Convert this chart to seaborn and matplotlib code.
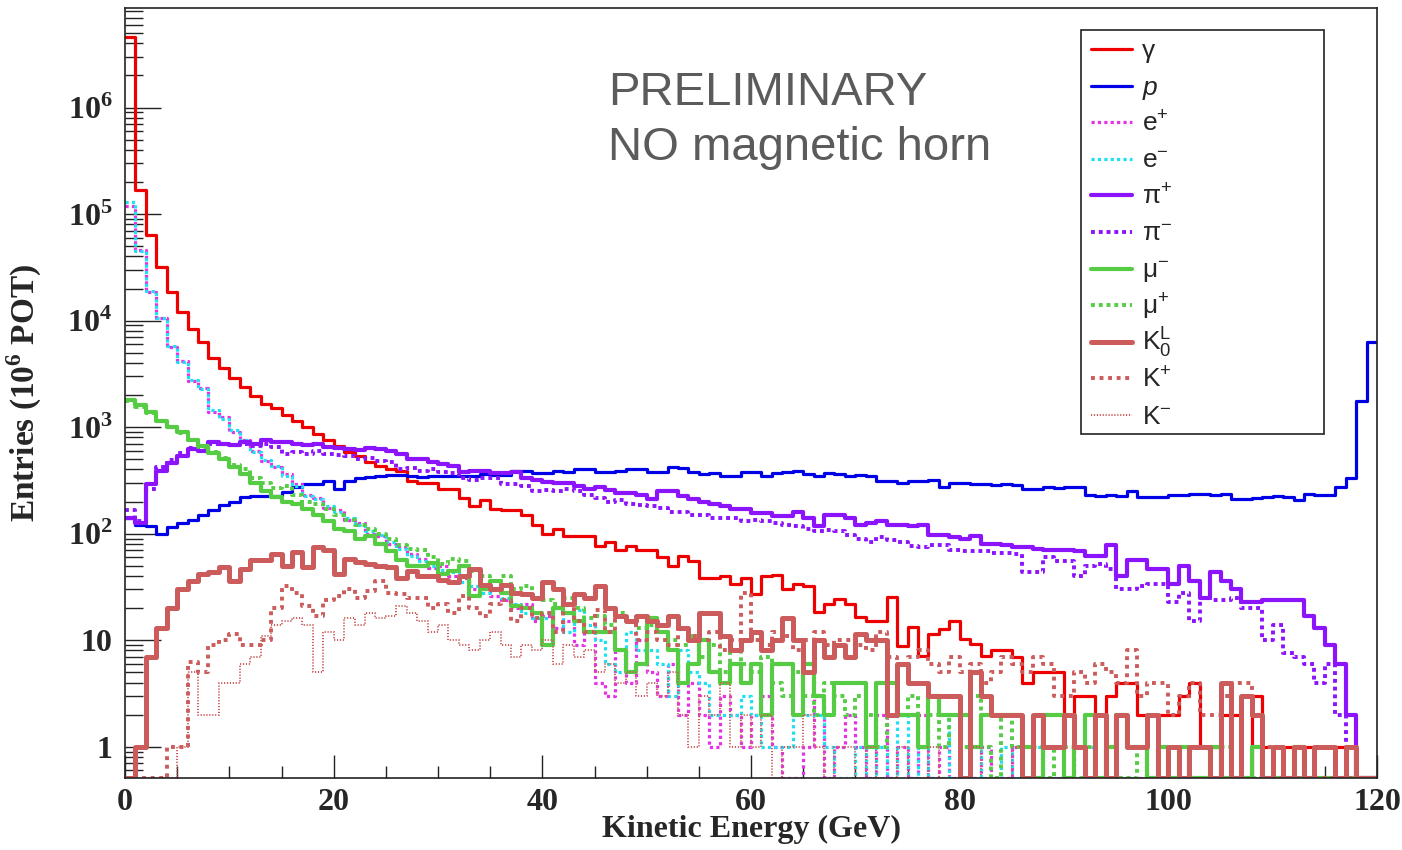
import numpy as np
import pandas as pd
import matplotlib
matplotlib.use("Agg")
import matplotlib.pyplot as plt
from matplotlib.lines import Line2D
from matplotlib.patches import Rectangle
from matplotlib.ticker import FixedLocator, FixedFormatter, LogLocator, NullFormatter, MultipleLocator
import seaborn as sns

# ---------------- data (entries per 1 GeV bin, 0..120 GeV) ----------------
bin_edges = list(range(0, 121))

gamma = [4.6e6, 1.7e5, 6.3e4, 3.2e4, 1.85e4, 1.2e4, 8.4e3, 6.3e3, 4.5e3, 3.6e3,
         2.9e3, 2.4e3, 1.95e3, 1.65e3, 1.5e3, 1.3e3, 1.15e3, 1.0e3, 870, 750,
         670, 590, 530, 470, 430, 400, 390, 315, 300, 300,
         265, 265, 215, 180, 205, 170, 165, 165, 150, 120,
         100, 110, 96, 94, 94, 77, 84, 70, 76, 70,
         70, 60, 50, 62, 55, 38, 38, 40, 34, 38,
         27, 40, 41, 30, 34, 32, 18.5, 22, 24.5, 22,
         16.6, 15, 15, 25.6, 8.9, 13.4, 7.1, 11.5, 12.8, 15.2,
         10.3, 9.3, 7.1, 8, 8, 7, 4, 5, 5, 5,
         2, 3, 3, 2, 3, 4, 4, 2, 2, 2,
         2, 3, 4, 1, 1, 2, 2, 0, 3, 1,
         0, 1, 0, 1, 0, 0, 1, 0, 0, 0]

proton = [140, 120, 118, 100, 115, 125, 133, 148, 165, 185,
          200, 222, 225, 225, 225, 248, 275, 290, 290, 315,
          265, 315, 330, 340, 350, 355, 355, 350, 340, 345,
          350, 345, 345, 350, 360, 355, 355, 390, 390, 370,
          370, 390, 380, 400, 400, 380, 380, 385, 405, 400,
          380, 380, 420, 410, 380, 360, 370, 350, 350, 380,
          380, 345, 370, 375, 390, 360, 350, 370, 360, 350,
          355, 345, 310, 310, 300, 310, 310, 320, 275, 300,
          300, 290, 290, 285, 290, 285, 265, 265, 275, 270,
          275, 275, 230, 225, 228, 225, 250, 222, 220, 222,
          230, 232, 235, 235, 232, 235, 212, 210, 215, 222,
          225, 222, 205, 235, 230, 230, 275, 330, 1750, 6300]

e_plus = [1.2e5, 4.6e4, 1.85e4, 1.05e4, 5.6e3, 4.2e3, 2.7e3, 2.35e3, 1.4e3, 1.25e3,
          900, 760, 600, 480, 420, 360, 290, 230, 215, 175,
          165, 135, 125, 100, 95, 80, 75, 64, 58, 48,
          50, 40, 38, 30, 33, 26, 24, 20, 22, 15,
          17, 13, 15, 9, 12, 4, 3, 8, 4, 10,
          5, 3, 6, 2, 4, 2, 1, 3, 2, 1,
          2, 3, 1, 0, 0, 1, 3, 0, 1, 2,
          1, 0, 2, 0, 1, 0, 2, 0, 1, 0,
          1, 0, 1, 0, 0, 1, 0, 0, 0, 0,
          0, 1, 0, 0, 0, 0, 0, 0, 0, 0,
          0, 0, 0, 0, 0, 0, 0, 0, 0, 0,
          0, 0, 0, 0, 0, 0, 0, 0, 0, 0]

e_minus = [1.3e5, 4.5e4, 1.9e4, 1.05e4, 5.8e3, 4.1e3, 2.75e3, 2.3e3, 1.45e3, 1.2e3,
           930, 750, 590, 490, 430, 350, 280, 225, 210, 180,
           160, 140, 120, 105, 97, 84, 72, 62, 55, 50,
           46, 44, 35, 32, 28, 30, 25, 22, 18, 16,
           16, 20, 12, 19, 14, 10, 6, 5, 12, 8,
           8, 6, 3, 8, 5, 4, 2, 2, 2, 3,
           2, 1, 1, 1, 2, 2, 2, 1, 0, 0,
           1, 0, 1, 0, 2, 0, 1, 0, 0, 2,
           0, 1, 0, 0, 1, 0, 0, 1, 0, 0,
           0, 0, 1, 0, 0, 0, 0, 0, 0, 0,
           0, 0, 0, 0, 0, 0, 0, 0, 0, 0,
           0, 0, 0, 0, 0, 0, 0, 0, 0, 0]

pi_plus = [140, 125, 290, 390, 460, 530, 620, 600, 720, 700,
           680, 720, 700, 750, 720, 720, 700, 680, 700, 650,
           640, 620, 610, 640, 620, 600, 560, 500, 500, 470,
           450, 435, 380, 390, 390, 370, 370, 380, 330, 320,
           305, 300, 300, 280, 265, 275, 255, 240, 240, 230,
           210, 250, 250, 225, 210, 200, 190, 180, 170, 170,
           155, 155, 145, 145, 160, 140, 117, 150, 150, 140,
           120, 125, 130, 120, 120, 118, 120, 97, 97, 92,
           90, 94, 80, 80, 78, 75, 75, 72, 70, 70,
           70, 68, 62, 62, 78, 40, 56, 56, 47, 47,
           34, 50, 36, 25, 44, 36, 30, 23, 23, 24,
           24, 24, 24, 17, 13, 9, 6, 2, 0, 0]

pi_minus = [165, 130, 265, 420, 490, 570, 640, 660, 700, 690,
            680, 700, 660, 690, 650, 560, 580, 560, 600, 560,
            550, 540, 500, 510, 480, 470, 400, 410, 390, 400,
            380, 370, 330, 320, 330, 330, 290, 290, 280, 250,
            255, 250, 260, 250, 230, 215, 200, 205, 190, 185,
            180, 175, 160, 160, 150, 150, 140, 140, 140, 130,
            135, 130, 125, 120, 118, 110, 105, 108, 105, 98,
            90, 84, 92, 88, 84, 77, 75, 78, 78, 70,
            68, 68, 68, 66, 66, 64, 44, 44, 60, 55,
            55, 40, 50, 52, 47, 30, 30, 32, 34, 34,
            23, 28, 15, 25, 24, 24, 25, 20, 20, 10,
            14, 7.5, 7, 6, 4, 6, 2, 1, 0, 0]

mu_minus = [1800, 1600, 1400, 1150, 1000, 900, 750, 660, 570, 500,
            420, 360, 300, 250, 220, 200, 190, 170, 150, 130,
            110, 105, 90, 95, 80, 68, 56, 50, 50, 53,
            42, 45, 50, 26, 30, 36, 28, 21, 20, 18,
            9, 20, 18, 15, 12, 12, 12, 8, 5, 6,
            16, 12, 8, 4, 6, 10, 5, 4, 6, 4,
            6, 2, 6, 6, 2, 6, 3, 2, 4, 4,
            4, 1, 4, 4, 2, 2, 1, 3, 2, 2,
            2, 1, 2, 2, 2, 2, 1, 0, 2, 2,
            0, 1, 2, 0, 1, 2, 1, 1, 0, 1,
            0, 1, 0, 0, 1, 0, 0, 0, 1, 0,
            0, 0, 1, 0, 0, 0, 0, 0, 0, 0]

mu_plus = [1750, 1550, 1350, 1150, 1000, 880, 760, 650, 580, 510,
           440, 400, 330, 300, 270, 280, 230, 200, 190, 170,
           150, 135, 120, 110, 100, 90, 78, 72, 70, 60,
           52, 58, 55, 45, 40, 36, 40, 30, 32, 25,
           24, 22, 25, 20, 16, 17, 14, 18, 15, 13,
           14, 12, 10, 9, 11, 7, 9, 5, 8, 6,
           5, 7, 4, 3, 5, 3, 2, 4, 3, 2,
           3, 2, 1, 2, 2, 3, 1, 2, 1, 2,
           1, 3, 1, 0, 2, 1, 0, 1, 0, 1,
           1, 0, 1, 0, 1, 0, 0, 1, 0, 0,
           1, 0, 0, 0, 0, 1, 0, 0, 0, 0,
           0, 0, 0, 0, 0, 0, 0, 0, 0, 0]

k0_long = [0, 1, 7, 13, 20, 30, 36, 42, 44, 49,
           36, 47, 56, 56, 65, 50, 67, 49, 75, 70,
           42, 58, 54, 52, 50, 49, 38, 45, 40, 40,
           37, 35, 40, 47, 33, 30, 33, 28, 27, 25,
           35, 30, 22, 27, 25, 32, 20, 17, 15, 17,
           15, 14, 17, 13, 10, 18, 18, 11, 8, 10,
           12, 8, 10, 16, 10, 5, 10, 7, 9, 7,
           11.5, 10, 10, 2, 6, 4, 4, 3, 3, 3,
           0, 5, 3, 2, 2, 2, 0, 2, 1, 1,
           2, 1, 0, 2, 0, 2, 1, 1, 2, 0,
           1, 0, 1, 1, 0, 4, 0, 3, 2, 0,
           1, 0, 1, 0, 1, 1, 0, 1, 0, 0]

k_plus = [0, 0, 0, 0, 1, 1, 6.3, 5, 9, 10,
          11.5, 9, 9, 10, 20, 32, 28, 21, 17, 24,
          26, 30, 25, 29, 36, 28, 27, 25, 25, 20,
          22, 18, 26, 20, 17, 22, 24, 15, 20, 16,
          18, 12, 22, 15, 12, 19, 12, 17, 15, 10,
          12, 10, 9, 13, 11, 10, 12, 8, 10, 28,
          10, 9, 12, 11, 8, 10, 12, 9, 10, 10,
          9, 8, 12, 7, 6, 7, 8, 6, 5, 7,
          5, 6, 4, 5, 7, 6, 5, 7, 6, 3,
          3, 5, 4, 6, 5, 4, 8, 3, 4, 4,
          2, 3, 4, 2, 2, 3, 4, 4, 2, 1,
          0, 0, 0, 0, 0, 0, 0, 0, 0, 0]

k_minus = [0, 0, 0, 0, 0, 1, 5, 2, 2, 4,
           4, 6, 7, 11, 14, 15, 16, 14, 5, 12,
           10, 16, 14, 18, 16, 17, 21, 18, 15, 12,
           14, 10, 9, 8, 10, 12, 9, 7, 9, 8,
           10, 6, 9, 7, 8, 5, 6, 4, 5, 3,
           4, 3, 5, 2, 1, 3, 2, 4, 1, 2,
           1, 2, 0, 1, 1, 2, 1, 0, 1, 1,
           0, 1, 0, 0, 1, 0, 0, 1, 0, 0,
           0, 1, 0, 0, 0, 1, 0, 0, 0, 0,
           0, 0, 0, 0, 0, 0, 0, 0, 0, 0,
           0, 0, 0, 0, 0, 0, 0, 0, 0, 0,
           0, 0, 0, 0, 0, 0, 0, 0, 0, 0]

legend_labels = ["γ", r"$p$", r"e$^{\mathsf{+}}$", r"e$^{\mathsf{-}}$",
                 r"π$^{\mathsf{+}}$", r"π$^{\mathsf{-}}$", r"μ$^{\mathsf{-}}$",
                 r"μ$^{\mathsf{+}}$", r"K$_{\mathsf{0}}^{\mathsf{L}}$",
                 r"K$^{\mathsf{+}}$", r"K$^{\mathsf{-}}$"]
y_tick_values = [1, 10, 100, 1e3, 1e4, 1e5, 1e6]
y_tick_labels = ["1", "10", r"$10^{2}$", r"$10^{3}$", r"$10^{4}$", r"$10^{5}$", r"$10^{6}$"]
x_tick_values = [0, 20, 40, 60, 80, 100, 120]
x_tick_labels = ["0", "20", "40", "60", "80", "100", "120"]

# ---------------- style ----------------
sns.set_style("white")
plt.rcParams["font.family"] = ["Liberation Sans", "DejaVu Sans"]
plt.rcParams["mathtext.fontset"] = "custom"
plt.rcParams["mathtext.rm"] = "Liberation Serif:bold"
plt.rcParams["mathtext.bf"] = "Liberation Serif:bold"
plt.rcParams["mathtext.sf"] = "Liberation Sans"
plt.rcParams["mathtext.it"] = "Liberation Sans:italic"

RED = "#ee0000"
BLUE = "#0000e6"
MAGENTA = "#e632e6"
CYAN = "#1fe0f0"
VIOLET = "#8c14fc"
GREEN = "#55cc44"
KCOL = "#cc5b5b"
DOT = (0, (1, 1))

styles = [
    (gamma, RED, 2.3, "-"),
    (proton, BLUE, 2.3, "-"),
    (e_plus, MAGENTA, 2.3, DOT),
    (e_minus, CYAN, 2.3, DOT),
    (pi_plus, VIOLET, 3.0, "-"),
    (pi_minus, VIOLET, 2.8, DOT),
    (mu_minus, GREEN, 3.0, "-"),
    (mu_plus, GREEN, 2.8, DOT),
    (k0_long, KCOL, 3.6, "-"),
    (k_plus, KCOL, 2.8, (0, (1, 1.2))),
    (k_minus, KCOL, 1.4, (0, (0.6, 0.9))),
]

W, H = 1402, 850
fig = plt.figure(figsize=(W / 100, H / 100), dpi=100)
L, R, T, B = 125, 1377, 8, 778
ax = fig.add_axes([L / W, 1 - B / H, (R - L) / W, (B - T) / H])
ax.set_yscale("log")
ylo, yhi = 0.508, 8.6e6

edges = [float(e) for e in bin_edges]
centers = [0.5 * (a + b) for a, b in zip(edges[:-1], edges[1:])]
for vals, col, lw, ls in styles:
    v = np.asarray(vals, dtype=float)
    df = pd.DataFrame({"E": centers, "w": np.where(v > 0, v, ylo * 0.995)})
    sns.histplot(data=df, x="E", weights="w", bins=edges, element="step", fill=False,
                 color=col, linewidth=lw, linestyle=ls, ax=ax, stat="count")

ax.set_xlim(0, 120)
ax.set_ylim(ylo, yhi)

# ticks (ROOT style: inside, left/bottom only)
ax.yaxis.set_major_locator(FixedLocator(y_tick_values))
ax.yaxis.set_major_formatter(FixedFormatter(y_tick_labels))
ax.yaxis.set_minor_locator(LogLocator(base=10, subs=np.arange(2, 10), numticks=30))
ax.yaxis.set_minor_formatter(NullFormatter())
ax.xaxis.set_major_locator(FixedLocator(x_tick_values))
ax.xaxis.set_major_formatter(FixedFormatter(x_tick_labels))
ax.xaxis.set_minor_locator(MultipleLocator(5))
ax.tick_params(axis="both", which="both", direction="in", top=False, right=False,
               bottom=True, left=True, color="#222222")
ax.tick_params(axis="y", which="major", length=26, width=1.0, pad=9)
ax.tick_params(axis="y", which="minor", length=13, width=1.0)
ax.tick_params(axis="x", which="major", length=16.5, width=1.0, pad=7)
ax.tick_params(axis="x", which="minor", length=9, width=1.0)
for lab in ax.get_xticklabels() + ax.get_yticklabels():
    lab.set_fontfamily("Liberation Serif")
    lab.set_fontweight("bold")
    lab.set_fontsize(23)

for sp in ax.spines.values():
    sp.set_color("#222222")
    sp.set_linewidth(1.2)

ax.set_xlabel("Kinetic Energy (GeV)", fontfamily="Liberation Serif", fontweight="bold",
              fontsize=23)
ax.set_ylabel(r"Entries (10$^{6}$ POT)", fontfamily="Liberation Serif", fontweight="bold",
              fontsize=24)
ax.xaxis.set_label_coords(0.5, -0.048)
ax.yaxis.set_label_coords(-0.0655, 0.5)

# annotation
ax.text((608 - L) / (R - L), (B - 105) / (B - T), "PRELIMINARY", transform=ax.transAxes,
        fontsize=34, color="#5b5b5b", fontfamily="Liberation Sans", va="baseline", ha="left")
ax.text((608 - L) / (R - L), (B - 160) / (B - T), "NO magnetic horn", transform=ax.transAxes,
        fontsize=34, color="#5b5b5b", fontfamily="Liberation Sans", va="baseline", ha="left")

# legend (ROOT TLegend look)
box = Rectangle((1081 / W, 1 - 434 / H), (1324 - 1081) / W, (434 - 30) / H,
                transform=fig.transFigure, facecolor="white", edgecolor="#222222",
                linewidth=1.2, zorder=5)
fig.add_artist(box)
for i, ((vals, col, lw, ls), lab) in enumerate(zip(styles, legend_labels)):
    yc = 49 + 36.6 * i
    ln = Line2D([1091 / W, 1132 / W], [1 - yc / H, 1 - yc / H], color=col,
                linewidth=min(lw, 3.0) if ls != "-" else lw, linestyle=ls,
                transform=fig.transFigure, zorder=6)
    fig.add_artist(ln)
    fig.text(1142 / W, 1 - (yc + 9) / H, lab, fontsize=19,
             fontfamily=["Liberation Sans", "DejaVu Sans"],
             va="baseline", ha="left", zorder=7)

fig.savefig("out.png", dpi=100, facecolor="white")
